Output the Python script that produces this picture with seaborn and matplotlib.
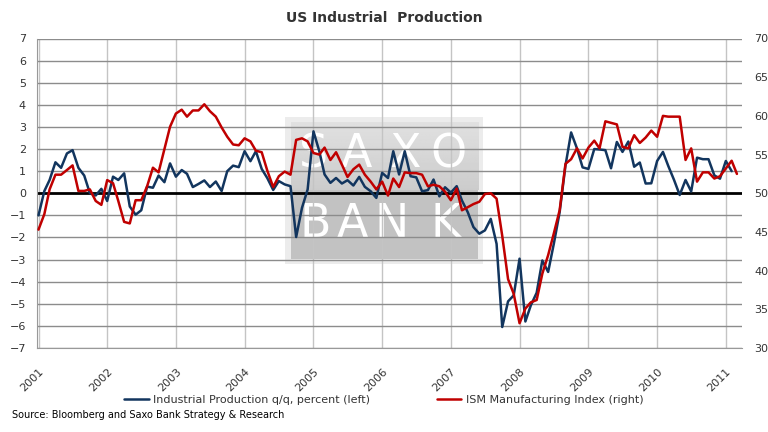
import numpy as np
import pandas as pd
import matplotlib
matplotlib.use("Agg")
import matplotlib.pyplot as plt
import matplotlib.transforms as mtransforms
from matplotlib.patches import Rectangle
import seaborn as sns

# Industrial production q/q (%), monthly Jan 2001 - Feb 2011 (left axis)
ip_qoq = [-1.0, 0.1, 0.6, 1.4, 1.15, 1.8, 1.95, 1.15, 0.8, 0.0, -0.1, 0.2,
          -0.35, 0.75, 0.6, 0.9, -0.6, -0.97, -0.77, 0.3, 0.25, 0.8, 0.5, 1.35,
          0.75, 1.05, 0.88, 0.28, 0.42, 0.58, 0.28, 0.53, 0.1, 1.0, 1.25, 1.18,
          1.9, 1.45, 1.9, 1.1, 0.68, 0.15, 0.55, 0.4, 0.32, -1.98, -0.66, 0.17,
          2.8, 1.9, 0.85, 0.47, 0.69, 0.44, 0.59, 0.35, 0.74, 0.29, 0.09, -0.21,
          0.92, 0.69, 1.9, 0.85, 1.9, 0.77, 0.72, 0.09, 0.14, 0.62, -0.14, 0.27,
          0.03, 0.32, -0.33, -0.86, -1.53, -1.83, -1.68, -1.16, -2.29, -6.05, -4.89, -4.62,
          -2.96, -5.8, -5.07, -4.5, -3.04, -3.56, -2.29, -0.86, 1.25, 2.75, 2.03, 1.17,
          1.1, 2.0, 1.98, 1.95, 1.13, 2.32, 1.87, 2.34, 1.2, 1.39, 0.44, 0.45,
          1.46, 1.87, 1.24, 0.6, -0.08, 0.6, 0.08, 1.61, 1.54, 1.54, 0.81, 0.66,
          1.46, 1.0]

# ISM manufacturing index, monthly Jan 2001 - Mar 2011 (right axis)
ism = [45.3, 47.3, 50.5, 52.4, 52.4, 53.0, 53.6, 50.3, 50.3, 50.5, 49.0, 48.5,
       51.7, 51.3, 49.0, 46.3, 46.1, 49.1, 49.1, 50.9, 53.3, 52.7, 55.7, 58.6,
       60.3, 60.8, 59.9, 60.7, 60.7, 61.5, 60.6, 59.9, 58.5, 57.3, 56.3, 56.2,
       57.1, 56.7, 55.5, 55.3, 52.9, 50.8, 52.2, 52.8, 52.4, 56.9, 57.1, 56.7,
       55.2, 55.0, 55.9, 54.3, 55.3, 53.7, 52.1, 53.1, 53.7, 52.4, 51.5, 50.5,
       51.5, 49.7, 51.9, 50.8, 52.7, 52.6, 52.6, 52.4, 50.9, 51.1, 50.9, 50.2,
       49.1, 50.6, 47.8, 48.2, 48.6, 48.9, 49.9, 50.0, 49.3, 44.5, 38.9, 37.0,
       33.2, 35.1, 35.9, 36.2, 39.6, 42.0, 44.8, 47.8, 53.8, 54.4, 55.8, 54.5,
       55.9, 56.8, 55.8, 59.3, 59.1, 58.9, 56.0, 55.8, 57.5, 56.5, 57.2, 58.1,
       57.3, 60.0, 59.9, 59.9, 59.9, 54.3, 55.8, 51.5, 52.7, 52.7, 51.9, 52.2,
       53.2, 54.2, 52.5]

years = list(range(2001, 2012))
left_ticks = list(range(-7, 8))
right_ticks = list(range(30, 71, 5))

df_ip = pd.DataFrame({"date": pd.date_range("2001-01-01", periods=len(ip_qoq), freq="MS"),
                      "value": ip_qoq})
df_ism = pd.DataFrame({"date": pd.date_range("2001-01-01", periods=len(ism), freq="MS"),
                       "value": ism})

blue = "#12355e"
red = "#c00000"
txt = "#333333"

sns.set_style("white")
plt.rcParams["font.family"] = ["DejaVu Sans"]

fig = plt.figure(figsize=(7.68, 4.32), dpi=100)
ax = fig.add_axes([37 / 768, 1 - 348 / 432, 705 / 768, 309.5 / 432])
ax2 = ax.twinx()

# watermark box behind the grid
ax.add_patch(Rectangle((0.352, 0.271), 0.281, 0.476, transform=ax.transAxes,
                       facecolor="#ececec", edgecolor="none", zorder=0.1))
grad = np.linspace(0.88, 0.80, 50).reshape(-1, 1)
ax.imshow(grad, cmap="gray", vmin=0, vmax=1, aspect="auto", transform=ax.transAxes,
          extent=(0.360, 0.626, 0.510, 0.729), zorder=0.2)
ax.add_patch(Rectangle((0.360, 0.288), 0.266, 0.222, transform=ax.transAxes,
                       facecolor="#c2c2c2", edgecolor="none", zorder=0.2))
for ch, xc in zip("SAXO", [314, 356, 405, 449]):
    ax.text((xc - 37) / 705, 0.625, ch, transform=ax.transAxes, ha="center", va="center",
            fontsize=33, color="white", zorder=0.3)
for ch, xc in zip("BANK", [315, 352, 392, 446]):
    ax.text((xc - 37) / 705, 0.40, ch, transform=ax.transAxes, ha="center", va="center",
            fontsize=33, color="white", zorder=0.3)

sns.lineplot(data=df_ip, x="date", y="value", ax=ax, color=blue, linewidth=1.8,
             label="Industrial Production q/q, percent (left)", legend=False, zorder=3)
sns.lineplot(data=df_ism, x="date", y="value", ax=ax2, color=red, linewidth=1.8,
             label="ISM Manufacturing Index (right)", legend=False, zorder=3)

ax.set_ylim(-7, 7)
ax.set_yticks(left_ticks)
ax2.set_ylim(30, 70)
ax2.set_yticks(right_ticks)
ax.set_xlim(pd.Timestamp("2000-12-24"), pd.Timestamp("2011-03-28"))

ax.set_axisbelow(True)
for v in left_ticks:
    if v != 0:
        ax.axhline(v, color="#8c8c8c", linewidth=1, zorder=0.5)
year_dates = [pd.Timestamp(f"{y}-01-01") for y in years]
for d in year_dates:
    ax.axvline(d, color="#c4c4c4", linewidth=1, zorder=0.4)
ax.axhline(0, color="black", linewidth=2, zorder=2)

ax.set_xticks(year_dates)
ax.set_xticklabels([str(y) for y in years], rotation=45, ha="right",
                   rotation_mode="anchor", fontsize=8, color=txt)
offset = mtransforms.ScaledTranslation(6 / 100, 0, fig.dpi_scale_trans)
for lab in ax.get_xticklabels():
    lab.set_transform(lab.get_transform() + offset)

ax.tick_params(axis="x", length=0, pad=13)
ax.tick_params(axis="y", length=0, pad=8, labelsize=8, labelcolor=txt)
ax2.tick_params(axis="y", length=0, pad=9, labelsize=8, labelcolor=txt)
ax.set_xlabel("")
ax.set_ylabel("")
ax2.set_ylabel("")

for s in ["top", "right"]:
    ax.spines[s].set_visible(False)
for s in ["top", "right", "left", "bottom"]:
    ax2.spines[s].set_visible(False)
ax.spines["left"].set_color("#999999")
ax.spines["bottom"].set_color("#999999")

fig.text(0.5, 1 - 18 / 432, "US Industrial  Production", ha="center", va="center",
         fontsize=10, fontweight="bold", color=txt)

h1, l1 = ax.get_legend_handles_labels()
h2, l2 = ax2.get_legend_handles_labels()
fig.legend(h1 + h2, l1 + l2, loc="center", bbox_to_anchor=(0.5, 1 - 400 / 432), ncol=2,
           frameon=False, fontsize=8, handlelength=2.2, handletextpad=0.4,
           columnspacing=6.0, labelcolor=txt)

fig.text(12 / 768, 1 - 415 / 432, "Source: Bloomberg and Saxo Bank Strategy & Research",
         ha="left", va="center", fontsize=7, color="black")

fig.savefig("out.png", dpi=100)
